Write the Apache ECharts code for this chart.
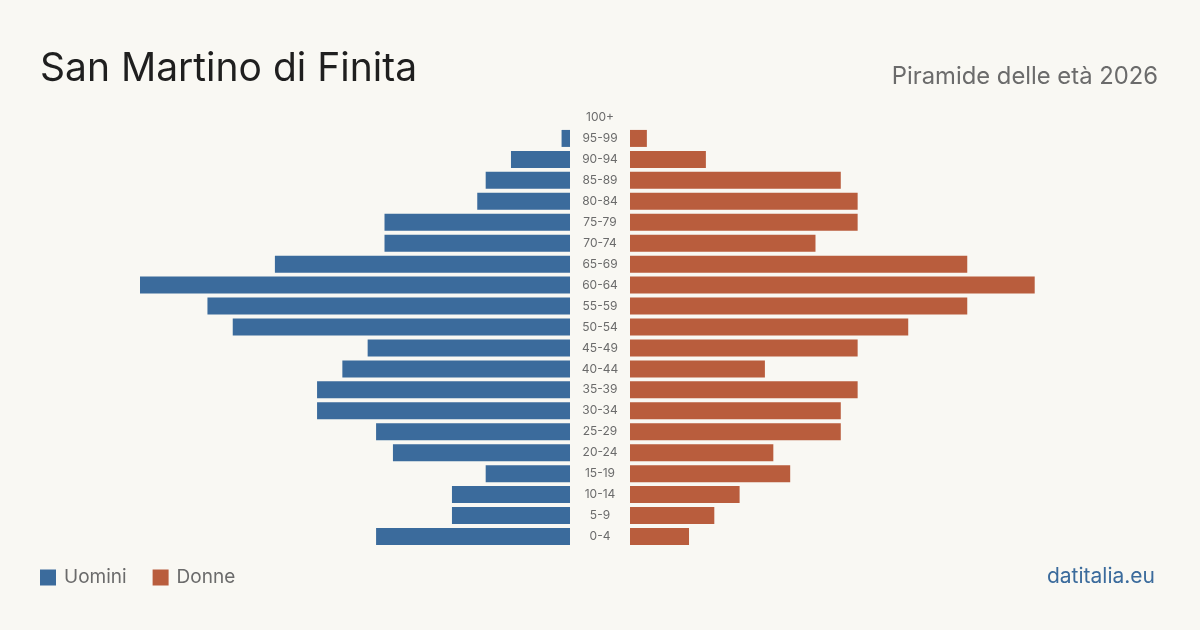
<!DOCTYPE html>
<html><head><meta charset="utf-8">
<script src="https://cdn.jsdelivr.net/npm/echarts@6/dist/echarts.min.js"></script>
<style>html,body{margin:0;padding:0;background:#f9f8f3;}#c{width:1200px;height:630px;}</style>
</head><body><div id="c"></div>
<script>
const ageGroups = ["0-4","5-9","10-14","15-19","20-24","25-29","30-34","35-39","40-44","45-49","50-54","55-59","60-64","65-69","70-74","75-79","80-84","85-89","90-94","95-99","100+"];
const males   = [23,14,14,10,21,23,30,30,27,24,40,43,51,35,22,22,11,10,7,1,0];
const females = [7,10,13,19,17,25,25,27,16,27,33,40,48,40,22,27,27,25,9,2,0];
const axisMax = 51;

const chart = echarts.init(document.getElementById('c'), null, {renderer:'canvas'});
const font = 'Inter, "Noto Sans", sans-serif';
chart.setOption({
  backgroundColor: '#f9f8f3',
  animation: false,
  title: [
    {text: 'San Martino di Finita', left: 35, top: 45,
     textStyle: {fontFamily: font, fontSize: 39, fontWeight: 'normal', color: '#1f1f1f'}},
    {text: 'Piramide delle età 2026', right: 37, top: 60,
     textStyle: {fontFamily: font, fontSize: 23.8, fontWeight: 'normal', color: '#6b6b6b'}},
    {text: 'datitalia.eu', right: 40, top: 561,
     textStyle: {fontFamily: font, fontSize: 21, fontWeight: 'normal', color: '#3b6b9c'}}
  ],
  legend: {
    left: 35, top: 563, itemWidth: 16, itemHeight: 16, itemGap: 26,
    icon: 'rect',
    textStyle: {fontFamily: font, fontSize: 19, color: '#6b6b6b', padding: [0,0,0,3]},
    data: ['Uomini','Donne']
  },
  grid: [
    {left: 140, width: 430, top: 107, height: 440, containLabel: false},
    {left: 630, width: 430, top: 107, height: 440, containLabel: false}
  ],
  xAxis: [
    {gridIndex: 0, type: 'value', inverse: true, min: 0, max: axisMax, show: false},
    {gridIndex: 1, type: 'value', min: 0, max: axisMax, show: false}
  ],
  yAxis: [
    {gridIndex: 0, type: 'category', data: ageGroups, position: 'right',
     axisLine: {show: false}, axisTick: {show: false}, splitLine: {show: false},
     axisLabel: {align: 'center', margin: 30, fontFamily: font, fontSize: 12, color: '#6b6b6b'}},
    {gridIndex: 1, type: 'category', data: ageGroups, show: false}
  ],
  series: [
    {name: 'Uomini', type: 'bar', xAxisIndex: 0, yAxisIndex: 0, data: males,
     barWidth: 17, itemStyle: {color: '#3b6b9c'}},
    {name: 'Donne', type: 'bar', xAxisIndex: 1, yAxisIndex: 1, data: females,
     barWidth: 17, itemStyle: {color: '#b95d3d'}}
  ]
});
</script></body></html>
